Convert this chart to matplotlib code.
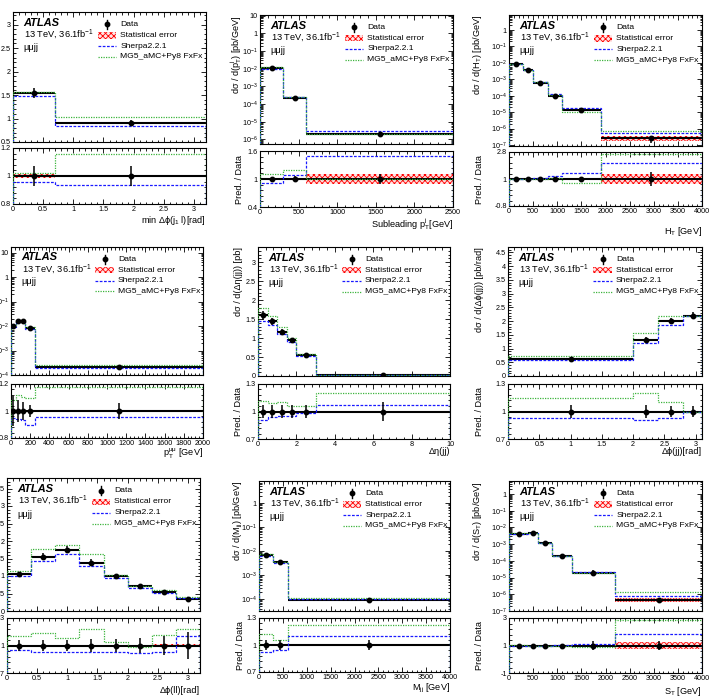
import numpy as np
import matplotlib
matplotlib.use('Agg')
import matplotlib.pyplot as plt
from matplotlib.ticker import (MultipleLocator, AutoMinorLocator, FixedLocator,
                               FuncFormatter, LogLocator, NullFormatter)
from matplotlib.patches import Rectangle
from matplotlib.lines import Line2D

plt.rcParams['font.family'] = ['Liberation Sans', 'DejaVu Sans']
plt.rcParams['mathtext.fontset'] = 'custom'
plt.rcParams['mathtext.rm'] = 'Liberation Sans'
plt.rcParams['mathtext.it'] = 'Liberation Sans:italic'
plt.rcParams['mathtext.bf'] = 'Liberation Sans:bold'
plt.rcParams['mathtext.default'] = 'regular'
plt.rcParams['hatch.linewidth'] = 0.6

# ---------------- data ----------------
# 1: min dphi(j1, l)
mindphi_edges = [0.0, 0.7, 3.2]
mindphi_data = [1.54, 0.90]
mindphi_stat = [0.012, 0.010]
mindphi_tot = [0.07, 0.07]
mindphi_sherpa = [1.47, 0.84]
mindphi_mg = [1.57, 1.04]

# 2: subleading jet pT
sublead_edges = [0, 300, 600, 2500]
sublead_data = [1.1e-2, 2.2e-4, 1.9e-6]
sublead_stat = [0.01, 0.03, 0.10]
sublead_tot = [0.04, 0.07, 0.10]
sublead_sherpa = [1.01e-2, 2.38e-4, 2.85e-6]
sublead_mg = [1.21e-2, 2.62e-4, 1.9e-6]

# 3: HT
ht_edges = [0, 300, 500, 800, 1100, 1900, 4000]
ht_data = [8.5e-3, 3.5e-3, 6.2e-4, 1.0e-4, 1.3e-5, 2.5e-7]
ht_stat = [0.01, 0.01, 0.02, 0.03, 0.05, 0.33]
ht_tot = [0.02, 0.02, 0.03, 0.04, 0.06, 0.45]
ht_sherpa = [8.5e-3, 3.5e-3, 6.5e-4, 1.22e-4, 1.85e-5, 5.25e-7]
ht_mg = [8.6e-3, 3.57e-3, 6.4e-4, 1.1e-4, 9.9e-6, 6.7e-7]

# 4: pT(mumu)
ptll_edges = [0, 50, 100, 150, 250, 2000]
ptll_data = [1.0e-2, 1.55e-2, 1.6e-2, 8.3e-3, 2.1e-4]
ptll_stat = [0.01, 0.01, 0.01, 0.01, 0.01]
ptll_tot = [0.11, 0.08, 0.07, 0.045, 0.06]
ptll_sherpa = [9.5e-3, 1.457e-2, 1.488e-2, 7.47e-3, 2.0e-4]
ptll_mg = [1.08e-2, 1.736e-2, 1.76e-2, 9.13e-3, 2.48e-4]

# 5: delta eta(jj)
deta_edges = [0, 0.5, 1.0, 1.5, 2.0, 3.0, 10.0]
deta_data = [1.60, 1.44, 1.17, 0.94, 0.55, 0.03]
deta_stat = [0.008, 0.008, 0.008, 0.008, 0.008, 0.01]
deta_tot = [0.07, 0.07, 0.07, 0.07, 0.07, 0.10]
deta_sherpa = [1.456, 1.354, 1.112, 0.893, 0.539, 0.0321]
deta_mg = [1.792, 1.570, 1.287, 0.996, 0.583, 0.036]

# 6: delta phi(jj)
dphijj_edges = [0, 2.0, 2.4, 2.8, 3.1]
dphijj_data = [0.62, 1.32, 2.00, 2.20]
dphijj_stat = [0.008, 0.008, 0.008, 0.008]
dphijj_tot = [0.07, 0.07, 0.06, 0.06]
dphijj_sherpa = [0.577, 1.201, 1.860, 2.178]
dphijj_mg = [0.713, 1.584, 2.200, 2.200]

# 7: delta phi(ll)
dphill_edges = [0, 0.4, 0.8, 1.2, 1.6, 2.0, 2.4, 2.8, 3.2]
dphill_data = [1.05, 1.55, 1.75, 1.38, 1.00, 0.72, 0.54, 0.35]
dphill_stat = [0.01, 0.01, 0.01, 0.01, 0.01, 0.01, 0.012, 0.015]
dphill_tot = [0.06, 0.06, 0.06, 0.07, 0.07, 0.08, 0.10, 0.15]
dphill_sherpa = [0.998, 1.442, 1.628, 1.283, 0.930, 0.662, 0.502, 0.385]
dphill_mg = [1.155, 1.767, 1.890, 1.628, 1.040, 0.706, 0.599, 0.413]

# 8: Mjj
mjj_edges = [0, 300, 600, 4000]
mjj_data = [7.0e-3, 3.4e-3, 9.5e-5]
mjj_stat = [0.008, 0.008, 0.01]
mjj_tot = [0.06, 0.06, 0.06]
mjj_sherpa = [6.44e-3, 3.23e-3, 1.045e-4]
mjj_mg = [7.84e-3, 3.60e-3, 1.16e-4]

# 9: ST
st_edges = [0, 400, 600, 900, 1300, 2200, 4000]
st_data = [4.3e-3, 4.7e-3, 1.15e-3, 2.0e-4, 2.0e-5, 4.5e-7]
st_stat = [0.01, 0.01, 0.01, 0.02, 0.04, 0.25]
st_tot = [0.02, 0.02, 0.03, 0.05, 0.35, 0.30]
st_sherpa = [4.3e-3, 4.7e-3, 1.15e-3, 2.04e-4, 2.24e-5, 8.3e-7]
st_mg = [4.5e-3, 4.7e-3, 1.13e-3, 2.0e-4, 1.76e-5, 1.28e-6]

legend_labels = ['Data', 'Statistical error', 'Sherpa2.2.1', 'MG5_aMC+Py8 FxFx']

# ---------------- style ----------------
W, H = 711, 697
BLUE = '#1a1aff'
GREEN = '#3cb43c'
SHERPA_LS = (0, (2.2, 1.2))
MG_LS = (0, (1.0, 1.0))
TICK_FS = 5.2
LABEL_FS = 6.6
LEG_FS = 6.1
HATCH = 'xxxxxx'
BAND_FC = '#ffe4e4'

fig = plt.figure(figsize=(W / 100, H / 100), dpi=100)


def px_rect(x0, y0, x1, y1):
    return [x0 / W, 1 - y1 / H, (x1 - x0) / W, (y1 - y0) / H]


def log_fmt(v, pos):
    if v <= 0:
        return ''
    e = int(round(np.log10(v)))
    if abs(np.log10(v) - e) > 1e-6:
        return ''
    if e == 0:
        return '1'
    if e == 1:
        return '10'
    return r'$10^{%d}$' % e


def g_fmt(v, pos):
    return '%g' % round(v, 6)


def style_axes(ax):
    ax.tick_params(which='both', direction='in', top=True, right=True,
                   labelsize=TICK_FS, pad=1.5, width=0.6)
    ax.tick_params(which='major', length=3.5)
    ax.tick_params(which='minor', length=1.8)
    for s in ax.spines.values():
        s.set_linewidth(0.8)


def draw_legend(ax):
    ys = [0.905, 0.82, 0.738, 0.655]
    x0, x1, xt = 0.44, 0.535, 0.556
    xm = 0.5 * (x0 + x1)
    ax.plot([xm], [ys[0]], 'o', color='k', ms=3.2, transform=ax.transAxes, clip_on=False)
    ax.add_line(Line2D([xm, xm], [ys[0] - 0.035, ys[0] + 0.035], color='k', lw=1.0,
                       transform=ax.transAxes))
    ax.add_patch(Rectangle((x0, ys[1] - 0.024), x1 - x0, 0.048, transform=ax.transAxes,
                           facecolor=BAND_FC, edgecolor='red', hatch=HATCH, lw=0))
    ax.add_line(Line2D([x0, x1], [ys[2], ys[2]], color=BLUE, ls=SHERPA_LS, lw=0.9,
                       transform=ax.transAxes))
    ax.add_line(Line2D([x0, x1], [ys[3], ys[3]], color=GREEN, ls=MG_LS, lw=0.9,
                       transform=ax.transAxes))
    for y, lab in zip(ys, legend_labels):
        ax.text(xt, y, lab, transform=ax.transAxes, fontsize=LEG_FS, va='center', ha='left')


def draw_panel(main_px, ratio_px, edges, data, stat, tot, sherpa, mg, logy,
               ylim, ymajor, rylim, rticks, xmajor, xlabel, ylabel, ylab_x, xlab_y):
    edges = np.asarray(edges, float)
    data = np.asarray(data, float)
    stat = np.asarray(stat, float)
    tot = np.asarray(tot, float)
    sherpa = np.asarray(sherpa, float)
    mg = np.asarray(mg, float)
    centers = 0.5 * (edges[:-1] + edges[1:])
    widths = np.diff(edges)

    ax = fig.add_axes(px_rect(*main_px))
    rx = fig.add_axes(px_rect(*ratio_px))

    # main
    ax.bar(centers, 2 * data * stat, bottom=data * (1 - stat), width=widths,
           facecolor=BAND_FC, edgecolor='red', hatch=HATCH, lw=0, zorder=1)
    ax.hlines(data, edges[:-1], edges[1:], color='k', lw=1.5, zorder=2)
    ax.stairs(sherpa, edges, baseline=ylim[0], color=BLUE, ls=SHERPA_LS, lw=0.9, zorder=3)
    ax.stairs(mg, edges, baseline=ylim[0], color=GREEN, ls=MG_LS, lw=0.9, zorder=3)
    ax.errorbar(centers, data, yerr=data * tot, fmt='o', color='k', ms=3.2,
                elinewidth=1.1, capsize=0, zorder=4)
    ax.set_xlim(edges[0], edges[-1])
    if logy:
        ax.set_yscale('log')
        ax.yaxis.set_major_locator(LogLocator(base=10, numticks=30))
        ax.yaxis.set_minor_locator(LogLocator(base=10, subs=np.arange(2, 10), numticks=30))
        ax.yaxis.set_major_formatter(FuncFormatter(log_fmt))
        ax.yaxis.set_minor_formatter(NullFormatter())
    else:
        ax.yaxis.set_major_locator(MultipleLocator(ymajor))
        ax.yaxis.set_minor_locator(AutoMinorLocator(5))
        ax.yaxis.set_major_formatter(FuncFormatter(g_fmt))
    ax.set_ylim(*ylim)
    ax.xaxis.set_major_locator(MultipleLocator(xmajor))
    ax.xaxis.set_minor_locator(AutoMinorLocator(5))
    ax.tick_params(labelbottom=False)
    style_axes(ax)

    ax.text(0.055, 0.918, 'ATLAS', transform=ax.transAxes, fontsize=8.0,
            fontweight='bold', fontstyle='italic', va='center', ha='left')
    ax.text(0.055, 0.83, r'13 TeV, 36.1fb$^{-1}$', transform=ax.transAxes,
            fontsize=6.7, va='center', ha='left')
    ax.text(0.055, 0.728, 'μμjj', transform=ax.transAxes, fontsize=6.7,
            va='center', ha='left')
    draw_legend(ax)

    # ratio
    ones = np.ones_like(data)
    rx.bar(centers, 2 * stat, bottom=1 - stat, width=widths,
           facecolor=BAND_FC, edgecolor='red', hatch=HATCH, lw=0, zorder=1)
    rx.hlines(ones, edges[:-1], edges[1:], color='k', lw=1.5, zorder=2)
    rx.stairs(sherpa / data, edges, baseline=rylim[0], color=BLUE, ls=SHERPA_LS, lw=0.9, zorder=3)
    rx.stairs(mg / data, edges, baseline=rylim[0], color=GREEN, ls=MG_LS, lw=0.9, zorder=3)
    rx.errorbar(centers, ones, yerr=tot, fmt='o', color='k', ms=3.2,
                elinewidth=1.1, capsize=0, zorder=4)
    rx.set_xlim(edges[0], edges[-1])
    rx.set_ylim(*rylim)
    rx.yaxis.set_major_locator(FixedLocator(rticks))
    rx.yaxis.set_minor_locator(AutoMinorLocator(5))
    rx.yaxis.set_major_formatter(FuncFormatter(g_fmt))
    rx.xaxis.set_major_locator(MultipleLocator(xmajor))
    rx.xaxis.set_minor_locator(AutoMinorLocator(5))
    rx.xaxis.set_major_formatter(FuncFormatter(g_fmt))
    style_axes(rx)

    rx.set_xlabel(xlabel, fontsize=LABEL_FS, loc='right')
    rx.xaxis.set_label_coords(1.0, xlab_y)
    if ylabel is not None:
        ax.set_ylabel(ylabel, fontsize=LABEL_FS, loc='top')
        ax.yaxis.set_label_coords(ylab_x, 1.0)
        rx.set_ylabel('Pred. / Data', fontsize=LABEL_FS)
        rx.yaxis.set_label_coords(ylab_x, 0.5)


# ---------------- panels ----------------
draw_panel((13, 12, 206, 142), (13, 148, 206, 204),
           mindphi_edges, mindphi_data, mindphi_stat, mindphi_tot, mindphi_sherpa, mindphi_mg,
           False, (0.5, 3.27), 0.5, (0.8, 1.2), [0.8, 1.0, 1.2], 0.5,
           r'min Δϕ(j$_{1}$ l)[rad]', None, None, -0.17)

draw_panel((260, 15, 453, 144), (260, 151, 453, 207),
           sublead_edges, sublead_data, sublead_stat, sublead_tot, sublead_sherpa, sublead_mg,
           True, (5.4e-7, 11), None, (0.4, 1.6), [0.4, 1.0, 1.6], 500,
           r'Subleading p$_{T}^{j}$[GeV]', r'dσ / d(p$_{T}^{j}$) [pb/GeV]', -0.085, -0.17)

draw_panel((509, 15, 702, 146), (509, 152, 702, 206),
           ht_edges, ht_data, ht_stat, ht_tot, ht_sherpa, ht_mg,
           True, (8.7e-8, 8.2), None, (-0.8, 2.8), [-0.8, 1.0, 2.8], 500,
           r'H$_{T}$ [GeV]', r'dσ / d(H$_{T}$) [pb/GeV]', -0.13, -0.35)

draw_panel((11, 247, 203, 375), (11, 384, 203, 438),
           ptll_edges, ptll_data, ptll_stat, ptll_tot, ptll_sherpa, ptll_mg,
           True, (1e-4, 17), None, (0.8, 1.2), [0.8, 1.0, 1.2], 200,
           r'p$_{T}^{μμ}$ [GeV]', None, None, -0.17)

draw_panel((258, 247, 450, 376), (258, 384, 450, 439),
           deta_edges, deta_data, deta_stat, deta_tot, deta_sherpa, deta_mg,
           False, (0, 3.4), 0.5, (0.7, 1.3), [0.7, 1.0, 1.3], 2,
           'Δη(jj)', 'dσ / d(Δη(jj)) [pb]', -0.08, -0.15)

draw_panel((508, 247, 702, 376), (508, 384, 702, 439),
           dphijj_edges, dphijj_data, dphijj_stat, dphijj_tot, dphijj_sherpa, dphijj_mg,
           False, (0, 4.7), 0.5, (0.7, 1.3), [0.7, 1.0, 1.3], 0.5,
           'Δϕ(jj)[rad]', 'dσ / d(Δϕ(jj)) [pb/rad]', -0.125, -0.15)

draw_panel((7, 478, 200, 611), (7, 618, 200, 673),
           dphill_edges, dphill_data, dphill_stat, dphill_tot, dphill_sherpa, dphill_mg,
           False, (0, 3.8), 0.5, (0.7, 1.3), [0.7, 1.0, 1.3], 0.5,
           'Δϕ(ll)[rad]', None, None, -0.24)

draw_panel((259, 481, 450, 611), (259, 618, 450, 672),
           mjj_edges, mjj_data, mjj_stat, mjj_tot, mjj_sherpa, mjj_mg,
           True, (3.2e-5, 8.3), None, (0.7, 1.3), [0.7, 1.0, 1.3], 500,
           r'M$_{jj}$ [GeV]', r'dσ / d(M$_{jj}$) [pb/GeV]', -0.075, -0.19)

draw_panel((509, 481, 702, 611), (509, 618, 702, 673),
           st_edges, st_data, st_stat, st_tot, st_sherpa, st_mg,
           True, (1e-7, 6), None, (-1, 3), [-1, 1, 3], 500,
           r'S$_{T}$ [GeV]', r'dσ / d(S$_{T}$) [pb/GeV]', -0.13, -0.22)

fig.savefig('out.png', dpi=100)
